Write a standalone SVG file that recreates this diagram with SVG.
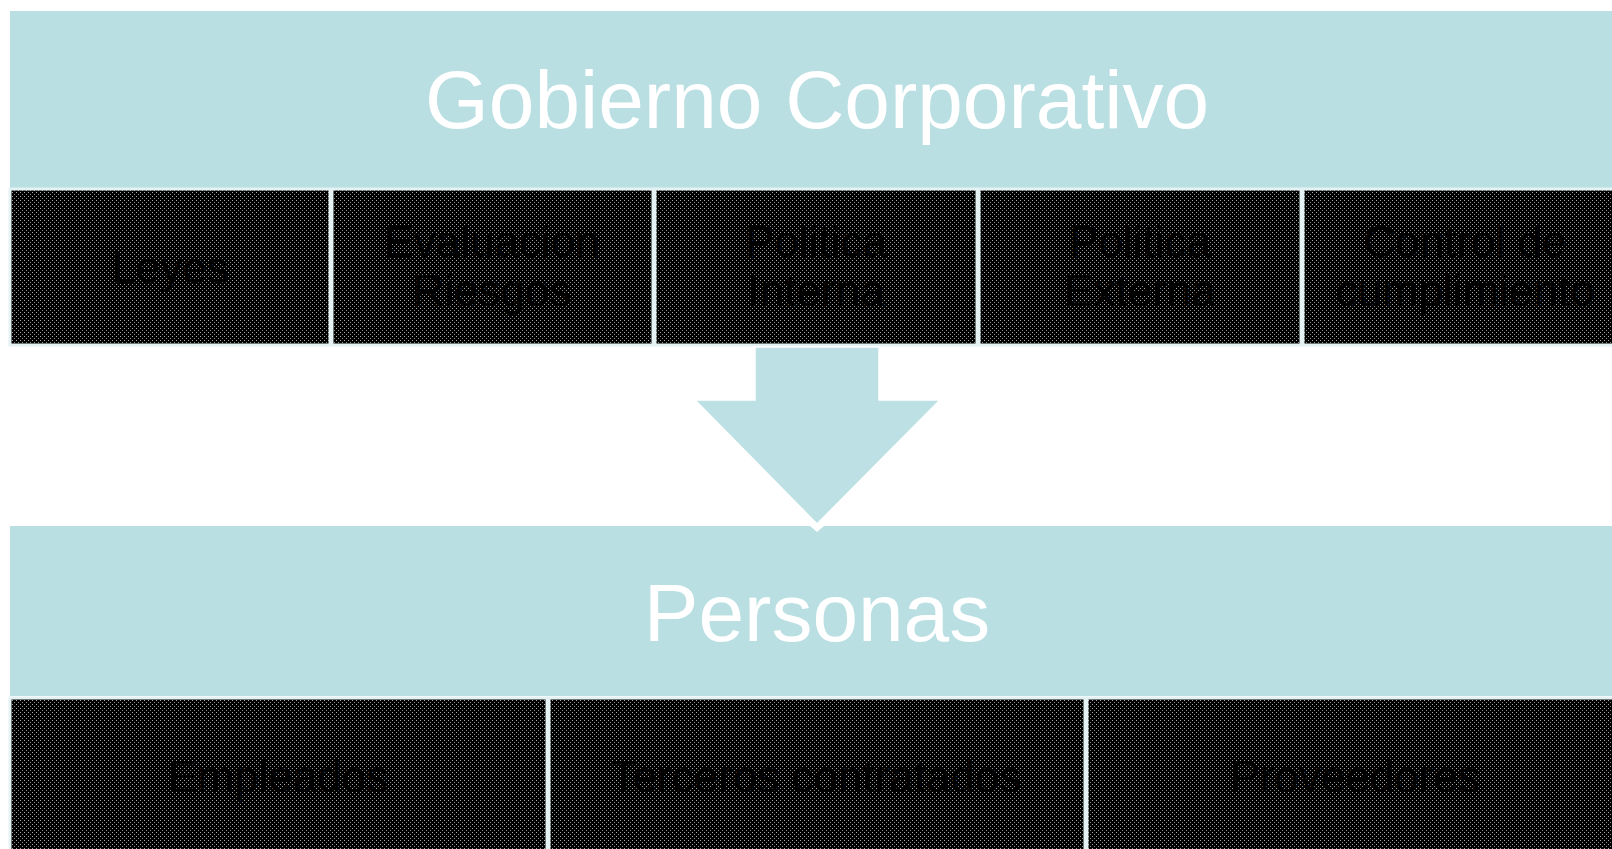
<svg xmlns="http://www.w3.org/2000/svg" width="1612" height="849" viewBox="0 0 1612 849">
  <defs>
    <pattern id="dots" width="4" height="4" patternUnits="userSpaceOnUse">
      <rect width="4" height="4" fill="#000"/>
      <rect x="0" y="0" width="1" height="1" fill="#a8a8a8"/>
      <rect x="2" y="2" width="1" height="1" fill="#8c8c8c"/>
    </pattern>
  </defs>
  <style>
    .hdr { fill: #B9DFE2; }
    .hdrtxt { font-family: "Liberation Sans", Arial, sans-serif; font-size: 82px; fill: #ffffff; text-anchor: middle; }
    .box { fill: url(#dots); stroke: #E4F2F3; stroke-width: 3; }
    .boxtxt { font-family: "Liberation Sans", Arial, sans-serif; font-size: 44px; fill: #000; text-anchor: middle; }
  </style>
  <rect width="1612" height="849" fill="#ffffff"/>

  <g id="gobierno">
    <rect class="hdr" x="10" y="11" width="1610" height="177"/>
    <text class="hdrtxt" x="817" y="128">Gobierno Corporativo</text>
  </g>

  <g id="leyes">
    <rect class="box" x="10" y="189" width="320" height="156"/>
    <text class="boxtxt" x="170" y="283">Leyes</text>
  </g>
  <g id="evaluacion">
    <rect class="box" x="332" y="189" width="321" height="156"/>
    <text class="boxtxt" x="492" y="257">Evaluacion</text>
    <text class="boxtxt" x="492" y="306">Riesgos</text>
  </g>
  <g id="politica-interna">
    <rect class="box" x="655" y="189" width="322" height="156"/>
    <text class="boxtxt" x="816" y="257">Politica</text>
    <text class="boxtxt" x="816" y="306">Interna</text>
  </g>
  <g id="politica-externa">
    <rect class="box" x="979" y="189" width="322" height="156"/>
    <text class="boxtxt" x="1140" y="257">Politica</text>
    <text class="boxtxt" x="1140" y="306">Externa</text>
  </g>
  <g id="control">
    <rect class="box" x="1303" y="189" width="330" height="156"/>
    <text class="boxtxt" x="1465" y="257">Control de</text>
    <text class="boxtxt" x="1465" y="306">cumplimiento</text>
  </g>

  <g id="connectors">
    <polygon points="755,347 879,347 879,400 940,400 817,524 695,400 755,400" fill="#BCE0E3" stroke="#ffffff" stroke-width="1.5" stroke-linejoin="miter"/>
  </g>

  <g id="personas">
    <rect class="hdr" x="10" y="526" width="1610" height="170"/>
    <text class="hdrtxt" x="817" y="641">Personas</text>
    <polygon points="810,526 824,526 817,532" fill="#ffffff"/>
  </g>

  <g id="empleados">
    <rect class="box" x="10" y="698" width="537" height="170"/>
    <text class="boxtxt" x="278" y="792">Empleados</text>
  </g>
  <g id="terceros">
    <rect class="box" x="549" y="698" width="536" height="170"/>
    <text class="boxtxt" x="816" y="792">Terceros contratados</text>
  </g>
  <g id="proveedores">
    <rect class="box" x="1087" y="698" width="545" height="170"/>
    <text class="boxtxt" x="1355" y="792">Proveedores</text>
  </g>
</svg>
